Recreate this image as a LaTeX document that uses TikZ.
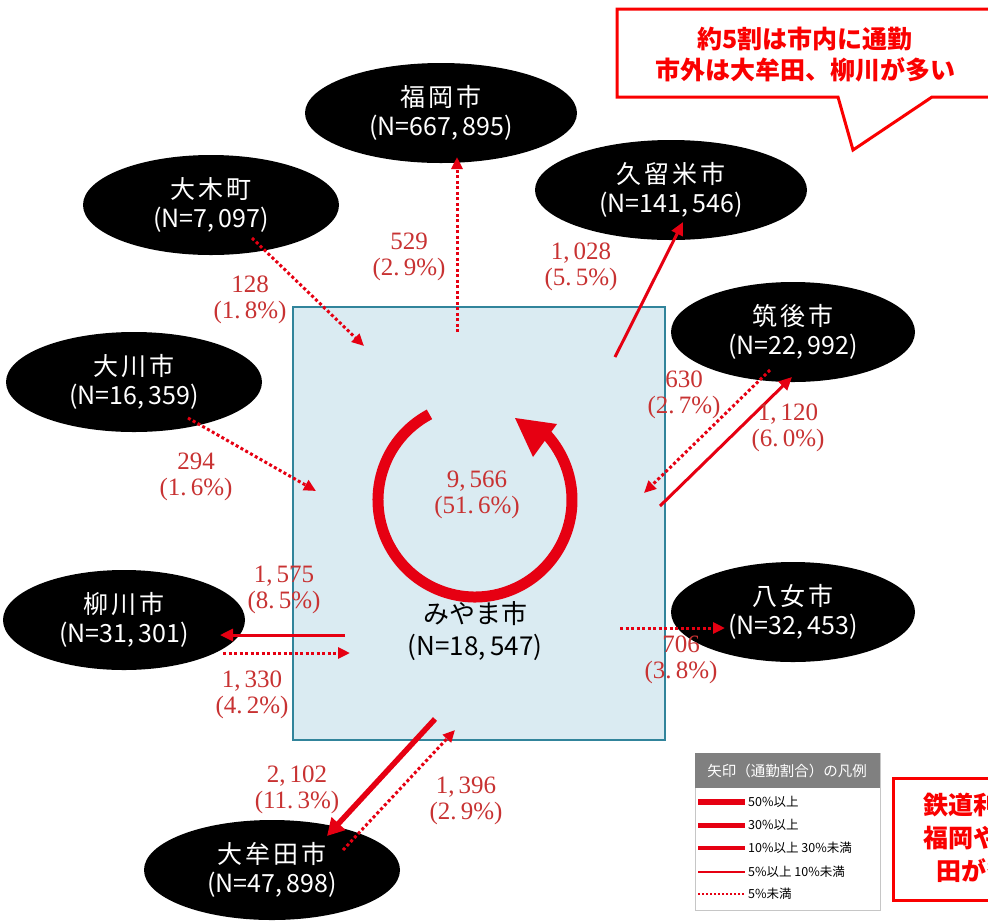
\documentclass[tikz,border=0pt]{standalone}
\usepackage{fontspec}
\setmainfont{Liberation Serif}
\newfontfamily\jp{Noto Sans CJK JP}
\newfontfamily\jpls{Noto Sans CJK JP}[LetterSpace=12]
\usetikzlibrary{shapes.geometric,arrows.meta}
\definecolor{arrred}{RGB}{230,0,18}
\definecolor{lblred}{RGB}{200,50,50}
\definecolor{calred}{RGB}{250,0,0}
\definecolor{boxfill}{RGB}{218,235,242}
\definecolor{boxline}{RGB}{49,132,155}
\definecolor{hdrgray}{RGB}{128,128,128}
\tikzset{
 city/.style={ellipse, fill=black, inner sep=0pt, text=white, align=center, font=\jp\fontsize{25}{29}\selectfont},
 lbl/.style={text=lblred, align=center, inner sep=0pt, font=\fontsize{25}{26}\selectfont},
 dotarrow/.style={draw=arrred, line width=3pt, dash pattern=on 3pt off 2.5pt, -{Triangle[length=12pt,width=11pt]}},
 thinarrow/.style={draw=arrred, line width=3pt, -{Triangle[length=13pt,width=12pt]}},
 thickarrow/.style={draw=arrred, line width=5.5pt, -{Triangle[length=17pt,width=18pt]}},
 legtxt/.style={anchor=west, inner sep=0pt, font=\jp\fontsize{12.5}{13}\selectfont},
 calltxt/.style={text=calred, align=center, inner sep=0pt, font=\jp\bfseries\fontsize{25}{31}\selectfont},
}
\begin{document}
\begin{tikzpicture}[x=1pt,y=-1pt]
\useasboundingbox (0,0) rectangle (988,922);
\clip (0,0) rectangle (988,922);
\fill[white] (0,0) rectangle (988,922);
% central box
\draw[boxline, fill=boxfill, line width=2.5pt] (293,307) rectangle (665,740);
\node[inner sep=0pt, align=center, font=\jp\fontsize{26}{32}\selectfont] (miyama) at (475,631) {みやま市\\(N=18,\,547)};
% ring
\coordinate (rc) at (475,500);
\draw[arrred, line width=11pt] ([shift={(118:97pt)}]rc) arc[start angle=118, end angle=402, radius=97pt];
\fill[arrred] (515,418) -- (557,424) -- (533,457) -- cycle;
\node[lbl] (l-in) at (477,495) {9,\,566\\(51.\,6\%)};
% cities
\node[city, minimum width=272pt, minimum height=100pt] (fukuoka) at (441,113) {{\jpls 福岡市}\\(N=667,\,895)};
\node[city, minimum width=256pt, minimum height=100pt] (oki) at (211,205) {{\jpls 大木町}\\(N=7,\,097)};
\node[city, minimum width=256pt, minimum height=100pt] (okawa) at (134,382) {{\jpls 大川市}\\(N=16,\,359)};
\node[city, minimum width=272pt, minimum height=100pt] (kurume) at (671,190) {{\jpls 久留米市}\\(N=141,\,546)};
\node[city, minimum width=244pt, minimum height=100pt] (chikugo) at (793,332) {{\jpls 筑後市}\\(N=22,\,992)};
\node[city, minimum width=242pt, minimum height=100pt] (yanagawa) at (124,620) {{\jpls 柳川市}\\(N=31,\,301)};
\node[city, minimum width=244pt, minimum height=100pt] (yame) at (793,612) {{\jpls 八女市}\\(N=32,\,453)};
\node[city, minimum width=256pt, minimum height=100pt] (omuta) at (272,870) {{\jpls 大牟田市}\\(N=47,\,898)};
% connector end points
\coordinate (fk-a) at (457,332); \coordinate (fk-b) at (457,157);
\coordinate (ok-a) at (252,238); \coordinate (ok-b) at (364,346);
\coordinate (ow-a) at (188,418); \coordinate (ow-b) at (316,491);
\coordinate (ku-a) at (615,357); \coordinate (ku-b) at (683,222);
\coordinate (ch-a) at (660,506); \coordinate (ch-b) at (792,377);
\coordinate (ch-c) at (770,370); \coordinate (ch-d) at (644,493);
\coordinate (ya-a) at (345,635); \coordinate (ya-b) at (220,635);
\coordinate (ya-c) at (223,653); \coordinate (ya-d) at (350,653);
\coordinate (ym-a) at (620,628); \coordinate (ym-b) at (725,628);
\coordinate (om-a) at (435,719); \coordinate (om-b) at (327,836);
\coordinate (om-c) at (343,850); \coordinate (om-d) at (455,730);
% connectors
\draw[dotarrow] (fk-a) -- (fk-b);
\draw[dotarrow] (ok-a) -- (ok-b);
\draw[dotarrow] (ow-a) -- (ow-b);
\draw[thinarrow] (ku-a) -- (ku-b);
\draw[thinarrow] (ch-a) -- (ch-b);
\draw[dotarrow] (ch-c) -- (ch-d);
\draw[thinarrow] (ya-a) -- (ya-b);
\draw[dotarrow] (ya-c) -- (ya-d);
\draw[dotarrow] (ym-a) -- (ym-b);
\draw[thickarrow] (om-a) -- (om-b);
\draw[dotarrow] (om-c) -- (om-d);
% labels
\node[lbl] (l-fk) at (409,257) {529\\(2.\,9\%)};
\node[lbl] (l-ok) at (250,300) {128\\(1.\,8\%)};
\node[lbl] (l-ow) at (196,477) {294\\(1.\,6\%)};
\node[lbl] (l-ku) at (581,267) {1,\,028\\(5.\,5\%)};
\node[lbl] (l-ch1) at (684,395) {630\\(2.\,7\%)};
\node[lbl] (l-ch2) at (788,428) {1,\,120\\(6.\,0\%)};
\node[lbl] (l-ya1) at (284,590) {1,\,575\\(8.\,5\%)};
\node[lbl] (l-ya2) at (252,695) {1,\,330\\(4.\,2\%)};
\node[lbl] (l-ym) at (681,660) {706\\(3.\,8\%)};
\node[lbl] (l-om1) at (297,790) {2,\,102\\(11.\,3\%)};
\node[lbl] (l-om2) at (466,801) {1,\,396\\(2.\,9\%)};
% top callout
\draw[calred, line width=3pt, fill=white, line join=miter] (617,9) -- (1000,9) -- (1000,97) -- (932,97) -- (853,150) -- (838,97) -- (617,97) -- cycle;
\node[calltxt] (call1) at (805,55) {約5割は市内に通勤\\市外は大牟田、柳川が多い};
% legend
\draw[gray!45, fill=white, line width=1pt] (695,753) rectangle (880,910);
\fill[hdrgray] (695,753) rectangle (880,788);
\node[text=white, inner sep=0pt, font=\jp\fontsize{14.5}{15}\selectfont] (leghead) at (787,771) {矢印（通勤割合）の凡例};
\coordinate (lg1a) at (698,802); \coordinate (lg1b) at (745,802);
\coordinate (lg2a) at (698,825); \coordinate (lg2b) at (745,825);
\coordinate (lg3a) at (698,848); \coordinate (lg3b) at (745,848);
\coordinate (lg4a) at (698,872); \coordinate (lg4b) at (745,872);
\coordinate (lg5a) at (698,894); \coordinate (lg5b) at (745,894);
\draw[arrred, line width=6.5pt] (lg1a) -- (lg1b);
\draw[arrred, line width=5pt] (lg2a) -- (lg2b);
\draw[arrred, line width=3.2pt] (lg3a) -- (lg3b);
\draw[arrred, line width=1.5pt] (lg4a) -- (lg4b);
\draw[arrred, line width=1.5pt, dash pattern=on 2pt off 2pt] (lg5a) -- (lg5b);
\node[legtxt] (lt1) at (748,802) {50\%以上};
\node[legtxt] (lt2) at (748,825) {30\%以上};
\node[legtxt] (lt3) at (748,848) {10\%以上 30\%未満};
\node[legtxt] (lt4) at (748,872) {5\%以上 10\%未満};
\node[legtxt] (lt5) at (748,894) {5\%未満};
% bottom callout
\draw[calred, line width=3pt, fill=white] (893,778) rectangle (1000,900);
\node[calltxt, font=\jp\bfseries\fontsize{25}{33}\selectfont] (call2) at (986,838) {鉄道利用は\\福岡や大牟\\田が多い};
\end{tikzpicture}
\end{document}
